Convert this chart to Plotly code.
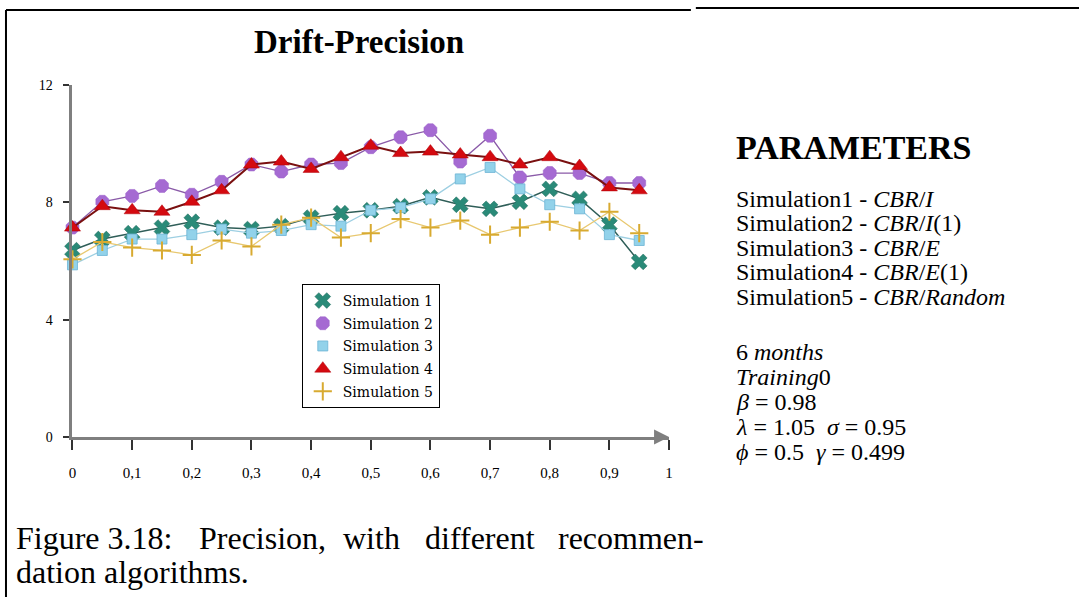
import plotly.graph_objects as go

# ---- data ----
drift = [0, 0.05, 0.1, 0.15, 0.2, 0.25, 0.3, 0.35, 0.4, 0.45,
         0.5, 0.55, 0.6, 0.65, 0.7, 0.75, 0.8, 0.85, 0.9, 0.95]
sim1 = [6.37, 6.75, 6.95, 7.14, 7.34, 7.14, 7.09, 7.19, 7.48, 7.63,
        7.73, 7.87, 8.17, 7.92, 7.78, 8.02, 8.46, 8.12, 7.24, 5.97]
sim2 = [7.14, 8.02, 8.22, 8.56, 8.26, 8.7, 9.29, 9.05, 9.29, 9.34,
        9.88, 10.22, 10.46, 9.39, 10.27, 8.85, 9.0, 9.0, 8.66, 8.66]
sim3 = [5.87, 6.36, 6.75, 6.75, 6.9, 7.09, 6.95, 7.04, 7.24, 7.19,
        7.73, 7.82, 8.12, 8.8, 9.19, 8.46, 7.92, 7.78, 6.9, 6.7]
sim4 = [7.14, 7.87, 7.73, 7.68, 8.02, 8.41, 9.29, 9.39, 9.14, 9.54,
        9.93, 9.68, 9.73, 9.63, 9.54, 9.29, 9.54, 9.24, 8.51, 8.41]
sim5 = [6.06, 6.65, 6.46, 6.36, 6.21, 6.7, 6.5, 7.24, 7.48, 6.8,
        6.95, 7.43, 7.14, 7.38, 6.9, 7.14, 7.34, 7.04, 7.68, 6.95]

series_names = ["Simulation 1", "Simulation 2", "Simulation 3", "Simulation 4", "Simulation 5"]
x_tickvals = [0, 0.1, 0.2, 0.3, 0.4, 0.5, 0.6, 0.7, 0.8, 0.9, 1]
x_ticktext = ["0", "0,1", "0,2", "0,3", "0,4", "0,5", "0,6", "0,7", "0,8", "0,9", "1"]
y_tickvals = [0, 4, 8, 12]
y_ticktext = ["0", "4", "8", "12"]

title_text = "Drift-Precision"
param_title = "PARAMETERS"
param_lines = [
    "Simulation1 - <i>CBR</i>/<i>I</i>",
    "Simulation2 - <i>CBR</i>/<i>I</i>(1)",
    "Simulation3 - <i>CBR</i>/<i>E</i>",
    "Simulation4 - <i>CBR</i>/<i>E</i>(1)",
    "Simulation5 - <i>CBR</i>/<i>Random</i>",
]
param_lines2 = [
    "6 <i>months</i>",
    "<i>Training</i>0",
    "<i>β</i> = 0.98",
    "<i>λ</i> = 1.05  <i>σ</i> = 0.95",
    "<i>ϕ</i> = 0.5  <i>γ</i> = 0.499",
]
caption_words_1 = ["Figure 3.18:", "Precision,", "with", "different", "recommen-"]
caption_line_2 = "dation algorithms."

# ---- styles ----
W, H = 1083, 605
SERIF = "Liberation Serif"
styles = [
    dict(symbol="x", size=14, color="#2a8a78", lcolor="#2f5e58", lw=1.5, mline="#1f6a5c", mlw=0.5),
    dict(symbol="octagon", size=14, color="#a56ad2", lcolor="#8a5aa8", lw=1.3, mline="#9a60c8", mlw=0.5),
    dict(symbol="square", size=10, color="#92d2ea", lcolor="#9dcfe2", lw=1.3, mline="#6cb4d4", mlw=0.8),
    dict(symbol="triangle-up", size=14, color="#d40a10", lcolor="#7a1010", lw=2, mline="#b00008", mlw=0.5),
    dict(symbol="cross-thin", size=13, color="#e2b83a", lcolor="#e8c870", lw=1.3, mline="#d8aa30", mlw=2),
]

fig = go.Figure()
all_series = [sim1, sim2, sim3, sim4, sim5]
for name, ys, st in zip(series_names, all_series, styles):
    fig.add_trace(go.Scatter(
        x=drift, y=ys, mode="lines+markers", name=name, showlegend=False,
        cliponaxis=False,
        line=dict(color=st["lcolor"], width=st["lw"]),
        marker=dict(symbol=st["symbol"], size=st["size"], color=st["color"],
                    line=dict(color=st["mline"], width=st["mlw"])),
    ))
for i, (name, st) in enumerate(zip(series_names, styles)):
    fig.add_trace(go.Scatter(
        x=[None], y=[None], mode="markers", name=name, showlegend=True,
        legendgroup="g%d" % i,
        marker=dict(symbol=st["symbol"], size=st["size"], color=st["color"],
                    line=dict(color=st["mline"], width=st["mlw"])),
    ))

def px(xp):
    return xp / W

def py(yp):
    return 1 - yp / H

AXIS_GRAY = "#7f7f7f"
fig.update_layout(
    width=W, height=H,
    margin=dict(l=0, r=0, t=0, b=0),
    paper_bgcolor="white", plot_bgcolor="white",
    showlegend=True,
    legend=dict(x=px(300), y=py(284), xanchor="left", yanchor="top",
                bgcolor="white", bordercolor="black", borderwidth=1,
                font=dict(family="DejaVu Serif", size=14, color="black"),
                itemwidth=30, tracegroupgap=1.5),
    xaxis=dict(domain=[px(69), px(670)], range=[0, 1], showgrid=False, zeroline=False,
               showline=True, linecolor=AXIS_GRAY, linewidth=3,
               tickvals=x_tickvals, ticktext=x_ticktext,
               ticks="outside", ticklen=10, tickwidth=2, tickcolor="#333333",
               ticklabelstandoff=10,
               tickfont=dict(family=SERIF, size=15, color="black")),
    yaxis=dict(domain=[py(441), py(80)], range=[0, 12], showgrid=False, zeroline=False,
               showline=True, linecolor=AXIS_GRAY, linewidth=3,
               tickvals=y_tickvals, ticktext=y_ticktext,
               ticks="outside", ticklen=6, tickwidth=1.5, tickcolor="#333333",
               ticklabelstandoff=8,
               tickfont=dict(family=SERIF, size=14, color="black")),
)

annotations = []
# axis arrowheads
annotations.append(dict(x=1, y=0, ax=-14, ay=0, xref="x", yref="y",
                        showarrow=True, arrowhead=2, arrowsize=1.2, arrowwidth=2.5,
                        arrowcolor=AXIS_GRAY, text=""))
annotations.append(dict(x=0, y=12.15, ax=0, ay=14, xref="x", yref="y",
                        showarrow=True, arrowhead=2, arrowsize=1.2, arrowwidth=2.5,
                        arrowcolor=AXIS_GRAY, text=""))
# title
annotations.append(dict(x=px(358), y=py(36), xref="paper", yref="paper", showarrow=False,
                        text="<b>" + title_text + "</b>", xanchor="center", yanchor="middle",
                        font=dict(family=SERIF, size=33, color="black")))
# parameters
annotations.append(dict(x=px(735), y=py(144), xref="paper", yref="paper", showarrow=False,
                        text="<b>" + param_title + "</b>", xanchor="left", yanchor="middle",
                        font=dict(family=SERIF, size=34, color="black")))
for i, t in enumerate(param_lines):
    annotations.append(dict(x=px(735), y=py(197 + 25 * i), xref="paper", yref="paper",
                            showarrow=False, text=t, xanchor="left", yanchor="middle",
                            font=dict(family=SERIF, size=24, color="black")))
for i, t in enumerate(param_lines2):
    annotations.append(dict(x=px(735), y=py(354 + 25.5 * i), xref="paper", yref="paper",
                            showarrow=False, text=t, xanchor="left", yanchor="middle",
                            font=dict(family=SERIF, size=24, color="black")))
# caption (justified first line)
word_x = [10, 194, 340, 422, 556]
for wx, wtxt in zip(word_x, caption_words_1):
    annotations.append(dict(x=px(wx), y=py(545), xref="paper", yref="paper",
                            showarrow=False, text=wtxt, xanchor="left", yanchor="middle",
                            font=dict(family=SERIF, size=32, color="black")))
annotations.append(dict(x=px(10), y=py(579), xref="paper", yref="paper",
                        showarrow=False, text=caption_line_2, xanchor="left", yanchor="middle",
                        font=dict(family=SERIF, size=32, color="black")))
fig.update_layout(annotations=annotations)

shapes = [
    dict(type="line", xref="paper", yref="paper", x0=px(2), x1=px(2), y0=py(3), y1=py(605),
         line=dict(color="black", width=2)),
    dict(type="line", xref="paper", yref="paper", x0=px(2), x1=px(692), y0=py(3), y1=py(3),
         line=dict(color="black", width=2)),
    dict(type="line", xref="paper", yref="paper", x0=px(697), x1=px(1083), y0=py(1), y1=py(1),
         line=dict(color="black", width=2)),
]
fig.update_layout(shapes=shapes)

fig.write_html("out.html", config={"displayModeBar": False},
               post_script="document.body.style.margin='0';document.body.style.padding='0';"
                           "document.body.style.overflow='hidden';")
